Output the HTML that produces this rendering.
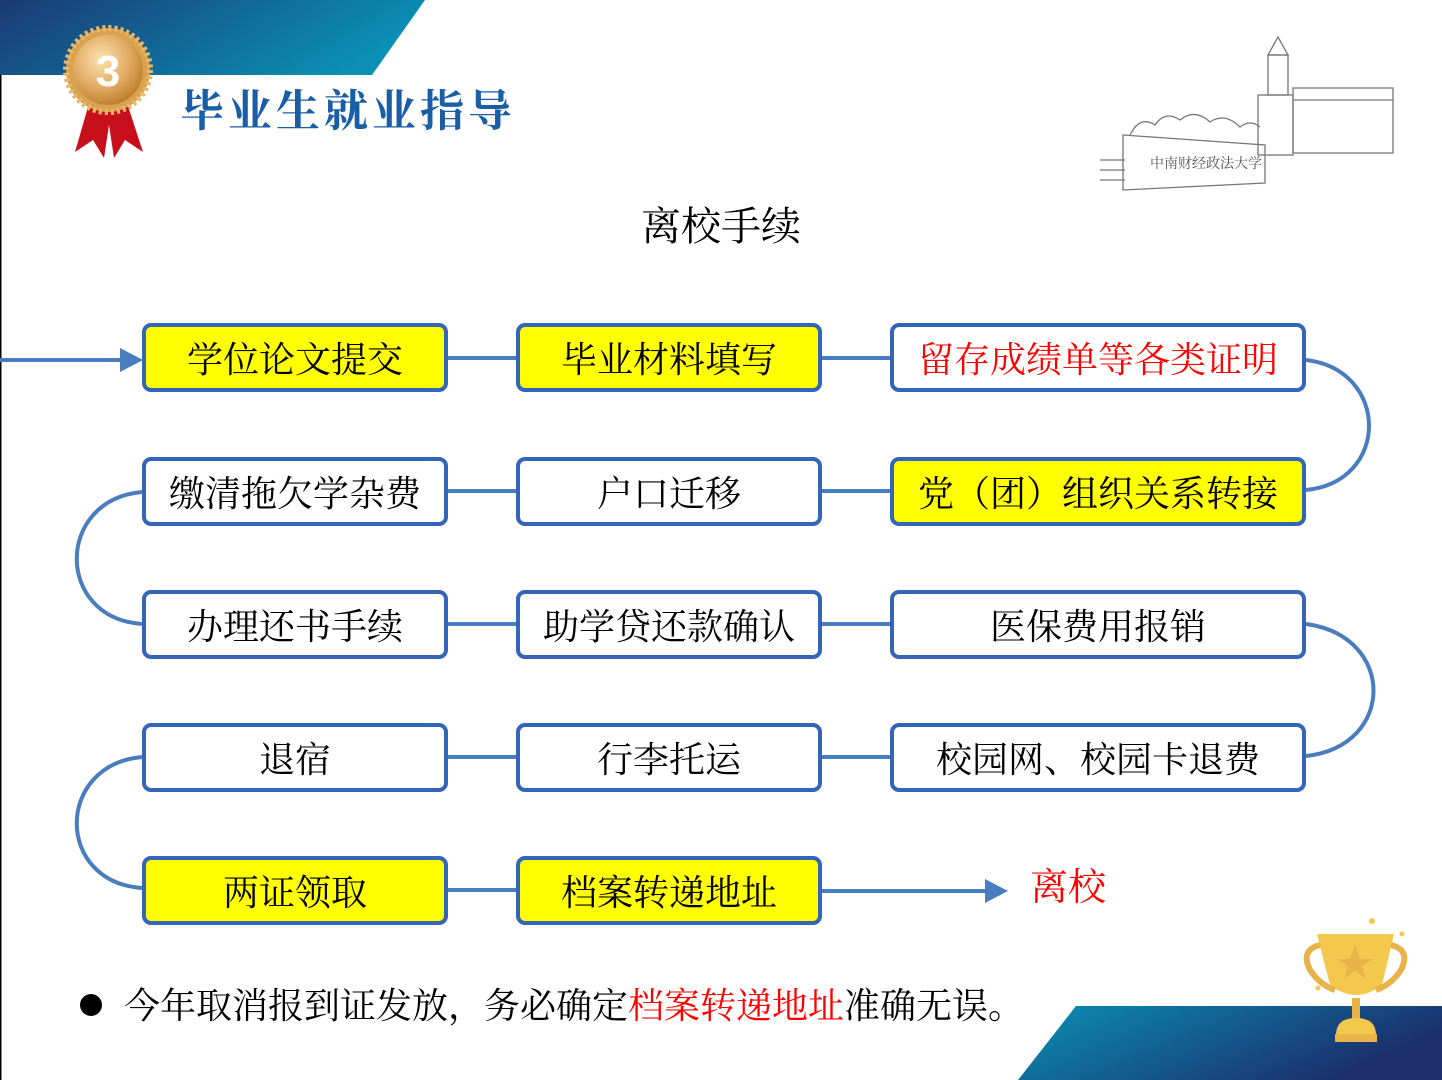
<!DOCTYPE html>
<html><head><meta charset="utf-8">
<style>
html,body{margin:0;padding:0;}
body{width:1442px;height:1080px;position:relative;overflow:hidden;background:#fff;font-family:"Liberation Serif","Noto Serif CJK SC",serif;}
.box{position:absolute;box-sizing:border-box;border:4px solid #3565b8;border-radius:9px;background:#fff;display:flex;align-items:center;justify-content:center;font-size:36px;color:#000;white-space:nowrap;height:69px;}
.y{background:#ffff00;}
.c1{left:142px;width:306px}.c2{left:516px;width:306px}.c3{left:890px;width:416px}
</style></head><body>
<svg width="1442" height="1080" style="position:absolute;left:0;top:0">
<defs>
<linearGradient id="g1" x1="0" y1="0" x2="1" y2="0.3"><stop offset="0" stop-color="#1b3a73"/><stop offset="1" stop-color="#0a8fb5"/></linearGradient>
<linearGradient id="g2" x1="0" y1="0" x2="1" y2="0.4"><stop offset="0" stop-color="#0a90b6"/><stop offset="1" stop-color="#1c2e6b"/></linearGradient>
<radialGradient id="gold" cx="0.4" cy="0.35" r="0.7"><stop offset="0" stop-color="#fbe3b0"/><stop offset="0.6" stop-color="#e0a860"/><stop offset="1" stop-color="#b87a2a"/></radialGradient>
</defs>
<line x1="0.5" y1="0" x2="0.5" y2="1080" stroke="#000" stroke-width="2"/>
<polygon points="0,0 425,0 372,75 0,75" fill="url(#g1)"/>
<polygon points="1076,1006 1442,1006 1442,1080 1018,1080" fill="url(#g2)"/>
<polygon points="90,100 75,152 93,140 104,158 112,105" fill="#c8101c"/>
<polygon points="126,100 143,152 125,140 114,158 106,105" fill="#c8101c"/>
<circle cx="108" cy="70" r="42" fill="#d9a24e" stroke="#e8b868" stroke-width="6" stroke-dasharray="3 3"/>
<circle cx="108" cy="70" r="35" fill="url(#gold)"/>
<text x="108" y="86" text-anchor="middle" font-family="Liberation Sans" font-weight="bold" font-size="44" fill="#fff">3</text>
<text x="180" y="126" font-family="Liberation Serif,Noto Serif CJK SC,serif" font-size="44" fill="#1a5ea6" letter-spacing="4" font-weight="bold">毕业生就业指导</text>
<g fill="none" stroke="#777" stroke-width="1.3">
<polygon points="1123,135 1265,145 1265,183 1123,190"/>
<rect x="1258" y="95" width="35" height="60"/>
<rect x="1268" y="55" width="20" height="40"/>
<polygon points="1268,55 1278,37 1288,55"/>
<rect x="1293" y="88" width="100" height="65"/>
<line x1="1293" y1="100" x2="1393" y2="100"/>
<path d="M1130,135 q10,-20 25,-10 q10,-15 25,-5 q15,-12 30,2 q15,-10 30,5 q10,-8 20,0"/>
<path d="M1100,160 h25 M1100,170 h25 M1100,180 h25"/>
</g>
<text x="1150" y="168" font-size="14" fill="#555" font-family="Noto Serif CJK SC,serif">中南财经政法大学</text>
<g fill="none" stroke="#4a7dbd" stroke-width="4">
<line x1="0" y1="360" x2="122" y2="360"/>
<line x1="448" y1="358" x2="516" y2="358"/>
<line x1="822" y1="358" x2="890" y2="358"/>
<line x1="448" y1="491" x2="516" y2="491"/>
<line x1="822" y1="491" x2="890" y2="491"/>
<line x1="448" y1="624" x2="516" y2="624"/>
<line x1="822" y1="624" x2="890" y2="624"/>
<line x1="448" y1="757" x2="516" y2="757"/>
<line x1="822" y1="757" x2="890" y2="757"/>
<line x1="448" y1="890" x2="516" y2="890"/>
<line x1="822" y1="891" x2="988" y2="891"/>
<path d="M1306,360 C1390,370 1390,482 1306,490"/>
<path d="M1306,624 C1396,636 1396,746 1306,756"/>
<path d="M142,492 C55,500 55,618 142,624"/>
<path d="M142,757 C55,765 55,882 142,888"/>
</g>
<polygon points="120,348 143,360 120,372" fill="#4a7dbd"/>
<polygon points="985,879 1008,891 985,903" fill="#4a7dbd"/>
<g fill="#f4c84c">
<path d="M1317,934 L1394,934 L1382,985 Q1356,1005 1330,985 Z"/>
<path d="M1320,945 Q1300,950 1310,970 Q1320,985 1335,990" fill="none" stroke="#e8b44a" stroke-width="6"/>
<path d="M1391,945 Q1411,950 1401,970 Q1391,985 1376,990" fill="none" stroke="#e8b44a" stroke-width="6"/>
<rect x="1352" y="998" width="8" height="25" fill="#e8b44a"/>
<path d="M1336,1035 Q1336,1018 1356,1018 Q1376,1018 1376,1035 Z"/>
<rect x="1335" y="1034" width="42" height="8" fill="#e8b44a"/>
<polygon points="1355,945 1360,959 1373,959 1362,966 1366,979 1355,971 1344,979 1348,966 1337,959 1350,959" fill="#e8b44a"/>
<circle cx="1372" cy="921" r="3"/><circle cx="1402" cy="934" r="2.5"/><circle cx="1318" cy="988" r="2.5"/>
</g>
</svg>
<div style="position:absolute;left:0;width:1442px;top:202px;text-align:center;font-size:40px;line-height:50px">离校手续</div>

<div class="box y c1" style="top:323px">学位论文提交</div>
<div class="box y c2" style="top:323px">毕业材料填写</div>
<div class="box c3" style="top:323px;color:#ff0000">留存成绩单等各类证明</div>
<div class="box c1" style="top:457px">缴清拖欠学杂费</div>
<div class="box c2" style="top:457px">户口迁移</div>
<div class="box y c3" style="top:457px">党（团）组织关系转接</div>
<div class="box c1" style="top:590px">办理还书手续</div>
<div class="box c2" style="top:590px">助学贷还款确认</div>
<div class="box c3" style="top:590px">医保费用报销</div>
<div class="box c1" style="top:723px">退宿</div>
<div class="box c2" style="top:723px">行李托运</div>
<div class="box c3" style="top:723px">校园网、校园卡退费</div>
<div class="box y c1" style="top:856px">两证领取</div>
<div class="box y c2" style="top:856px">档案转递地址</div>
<div style="position:absolute;left:1030px;top:864px;font-size:38px;color:#ff0000;line-height:48px">离校</div>

<div style="position:absolute;left:80px;top:994px;width:22px;height:22px;border-radius:50%;background:#000"></div>
<div style="position:absolute;left:124px;top:982px;font-size:36px;line-height:48px;white-space:nowrap">今年取消报到证发放，务必确定<span style="color:#ff0000">档案转递地址</span>准确无误。</div>
</body></html>
